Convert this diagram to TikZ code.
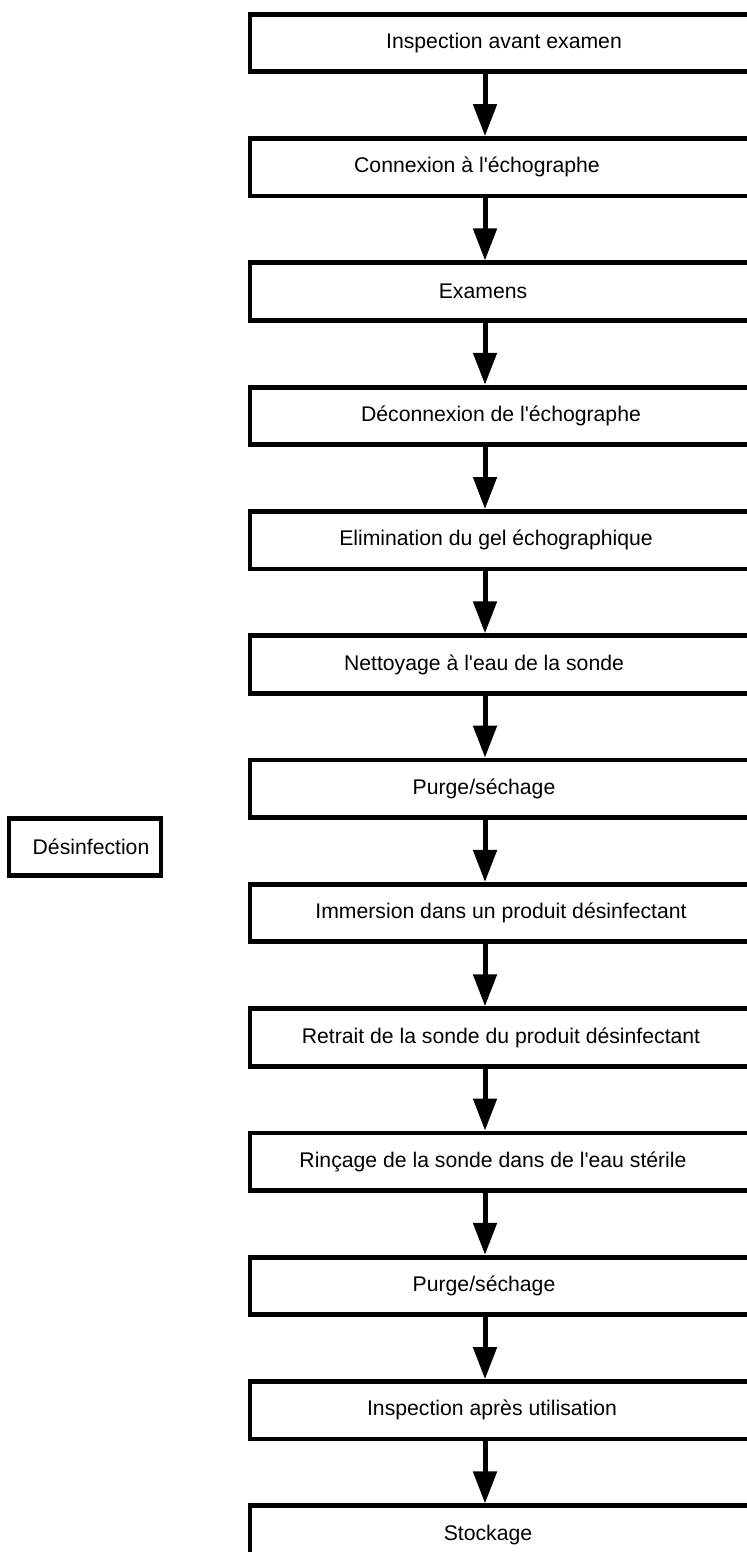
\documentclass[tikz,border=0pt]{standalone}
\usepackage{fontspec}
\setmainfont{Liberation Sans}[Ligatures=TeXOff]
\usetikzlibrary{arrows.meta,positioning}

\begin{document}
\begin{tikzpicture}[
  x=0.5pt,y=-0.5pt,
  stepbox/.style={draw=black,line width=2.4pt,fill=white,minimum width=251pt,minimum height=28.75pt,inner sep=0pt,font=\fontsize{10.6pt}{12pt}\selectfont},
  sidebox/.style={draw=black,line width=2.4pt,fill=white,minimum width=76pt,minimum height=28.75pt,inner sep=0pt,font=\fontsize{10.6pt}{12pt}\selectfont},
  tshift/.style={execute at begin node={\hspace*{#1}}},
  arr/.style={-{Triangle[length=16pt,width=11.5pt]},line width=2.5pt,black},
  node distance=31pt
]
\useasboundingbox (0,0) rectangle (747,1552);
\coordinate (ax) at (485,0);
\node[stepbox,tshift=3pt] (inspav) at (501,43) {Inspection avant examen};
\node[stepbox,tshift=-24pt,below=of inspav] (connex) {Connexion à l'échographe};
\node[stepbox,tshift=-18pt,below=of connex] (exam) {Examens};
\node[stepbox,below=of exam] (deconnex) {Déconnexion de l'échographe};
\node[stepbox,tshift=-5pt,below=of deconnex] (gel) {Elimination du gel échographique};
\node[stepbox,tshift=-17pt,below=of gel] (nettoy) {Nettoyage à l'eau de la sonde};
\node[stepbox,tshift=-17pt,below=of nettoy] (purgeA) {Purge/séchage};
\node[stepbox,below=of purgeA] (immers) {Immersion dans un produit désinfectant};
\node[stepbox,below=of immers] (retrait) {Retrait de la sonde du produit désinfectant};
\node[stepbox,tshift=-8pt,below=of retrait] (rincage) {Rinçage de la sonde dans de l'eau stérile};
\node[stepbox,tshift=-17pt,below=of rincage] (purgeB) {Purge/séchage};
\node[stepbox,tshift=-9pt,below=of purgeB] (inspap) {Inspection après utilisation};
\node[stepbox,tshift=-13pt,below=of inspap] (stock) {Stockage};
\node[sidebox,tshift=6pt] (desinf) at (85,847) {Désinfection};
\draw[arr] (inspav.south -| ax) -- (connex.north -| ax);
\draw[arr] (connex.south -| ax) -- (exam.north -| ax);
\draw[arr] (exam.south -| ax) -- (deconnex.north -| ax);
\draw[arr] (deconnex.south -| ax) -- (gel.north -| ax);
\draw[arr] (gel.south -| ax) -- (nettoy.north -| ax);
\draw[arr] (nettoy.south -| ax) -- (purgeA.north -| ax);
\draw[arr] (purgeA.south -| ax) -- (immers.north -| ax);
\draw[arr] (immers.south -| ax) -- (retrait.north -| ax);
\draw[arr] (retrait.south -| ax) -- (rincage.north -| ax);
\draw[arr] (rincage.south -| ax) -- (purgeB.north -| ax);
\draw[arr] (purgeB.south -| ax) -- (inspap.north -| ax);
\draw[arr] (inspap.south -| ax) -- (stock.north -| ax);
\end{tikzpicture}
\end{document}
